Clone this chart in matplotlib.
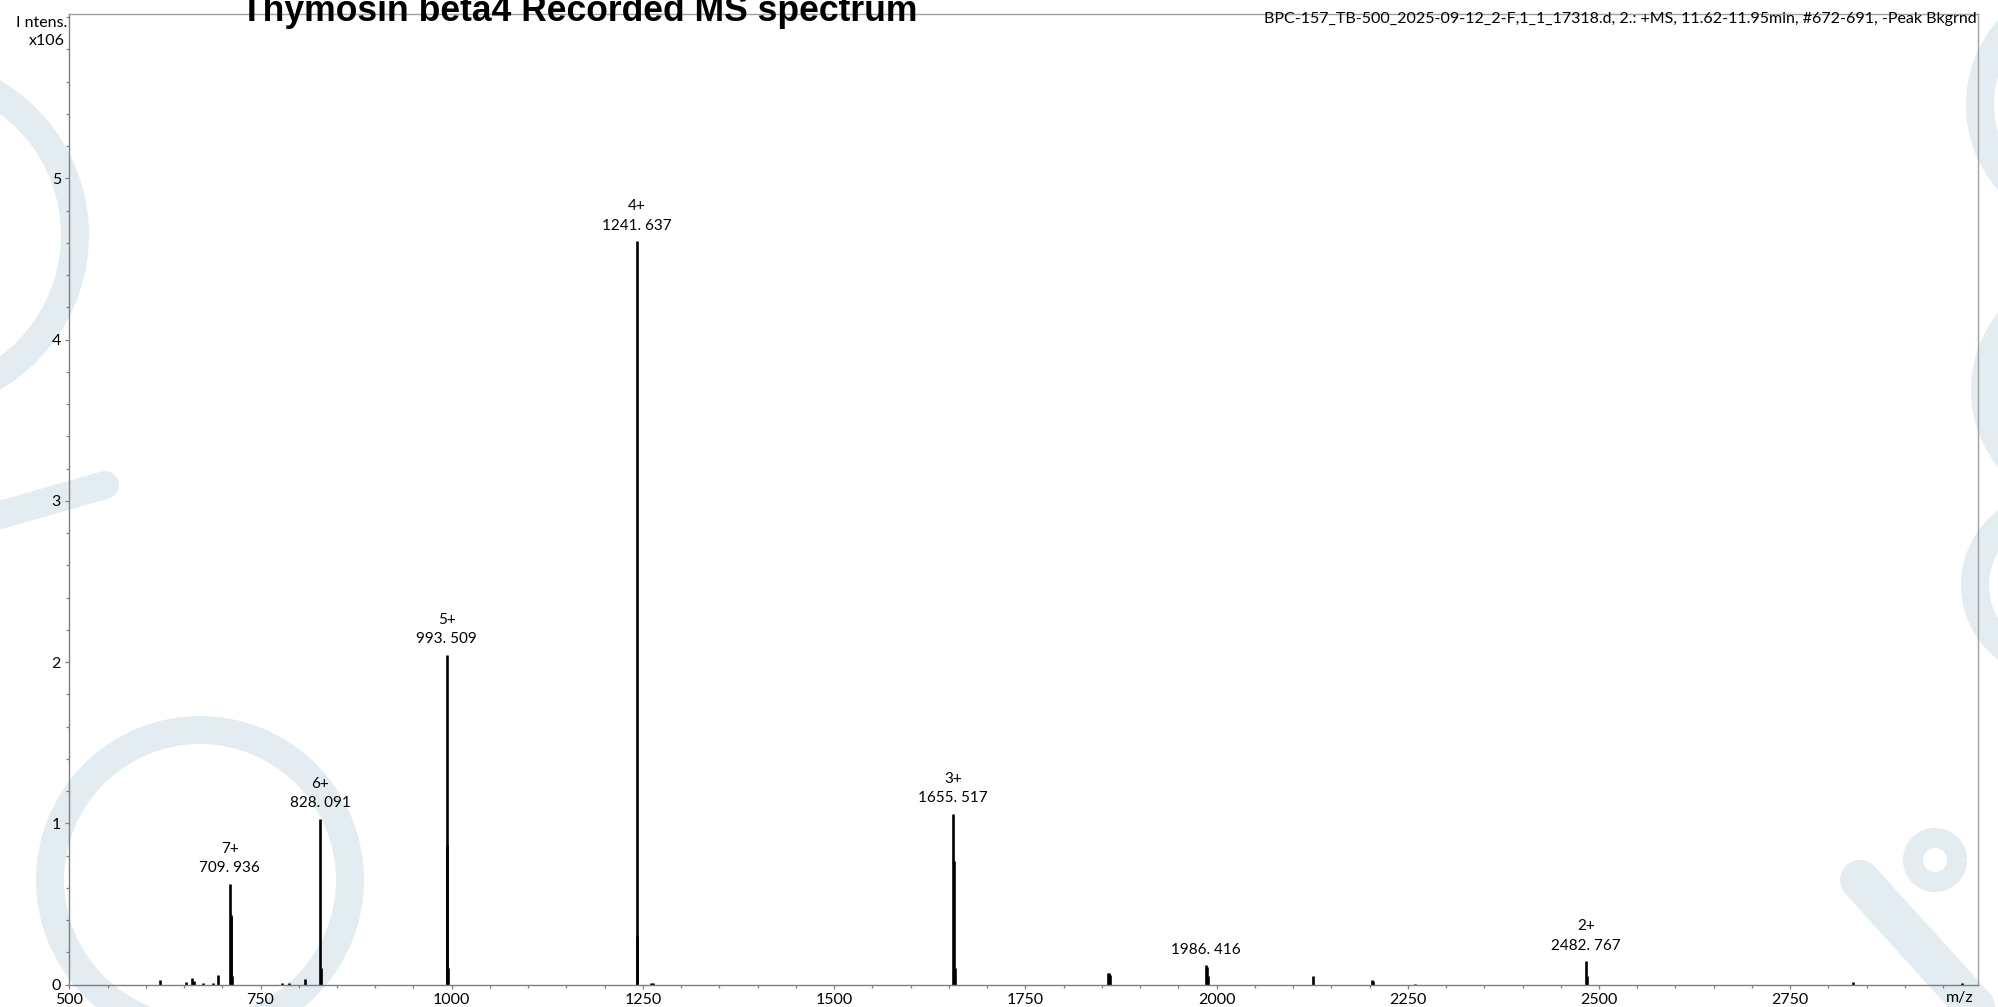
import matplotlib
matplotlib.use("Agg")
import matplotlib.pyplot as plt
from matplotlib.ticker import MultipleLocator
from matplotlib.patches import Arc
from matplotlib.lines import Line2D

# ---------------- data (m/z, intensity x10^6) ----------------
stick_mz = [618.7, 652.6, 660.0, 663.4, 675.0, 688.0, 694.0,
            709.936, 710.9, 711.9, 712.8,
            777.6, 787.6, 808.0,
            828.091, 829.0,
            993.509, 994.4, 995.3,
            1241.637, 1242.5,
            1260.6, 1262.6,
            1655.517, 1656.6, 1657.6,
            1857.6, 1858.9, 1860.3,
            1986.416, 1987.6, 1988.8,
            2125.7,
            2203.0, 2204.4,
            2260.0,
            2482.767, 2484.0,
            2832.0, 2975.0]
stick_int = [0.025, 0.017, 0.041, 0.020, 0.010, 0.010, 0.062,
             0.624, 0.430, 0.420, 0.050,
             0.008, 0.008, 0.035,
             1.027, 0.100,
             2.045, 0.866, 0.100,
             4.610, 0.300,
             0.008, 0.008,
             1.057, 0.764, 0.100,
             0.072, 0.070, 0.062,
             0.118, 0.110, 0.050,
             0.052,
             0.031, 0.024,
             0.006,
             0.145, 0.050,
             0.015, 0.008]

label_mz = [709.936, 828.091, 993.509, 1241.637, 1655.517, 1986.416, 2482.767]
label_int = [0.624, 1.027, 2.045, 4.610, 1.057, 0.118, 0.145]
label_charge = ["7+", "6+", "5+", "4+", "3+", "", "2+"]
label_text = ["709. 936", "828. 091", "993. 509", "1241. 637", "1655. 517", "1986. 416", "2482. 767"]

x_major = [500, 750, 1000, 1250, 1500, 1750, 2000, 2250, 2500, 2750]
y_major = [0, 1, 2, 3, 4, 5]
x_range = (500, 2995)
y_range = (0, 6.02)

title = "Thymosin beta4 Recorded MS spectrum"
info = "BPC-157_TB-500_2025-09-12_2-F,1_1_17318.d, 2.: +MS, 11.62-11.95min, #672-691, -Peak Bkgrnd"

# ---------------- figure ----------------
W, H = 1998, 1007
fig = plt.figure(figsize=(W / 100, H / 100), dpi=100)
fig.patch.set_facecolor("white")

# faint background watermark (decorative)
wm_color = "#e3ecf0"
def wm_arc(cx, cy, r, t1, t2, lw_px):
    a = Arc((cx / W, 1 - cy / H), 2 * r / W, 2 * r / H, theta1=t1, theta2=t2,
            transform=fig.transFigure, color=wm_color, lw=lw_px * 0.72, zorder=0)
    fig.add_artist(a)
def wm_line(x0, y0, x1, y1, lw_px):
    ln = Line2D([x0 / W, x1 / W], [1 - y0 / H, 1 - y1 / H], transform=fig.transFigure,
                color=wm_color, lw=lw_px * 0.72, solid_capstyle="round", zorder=0)
    fig.add_artist(ln)

wm_arc(-90, 235, 165, -80, 80, 28)
wm_arc(200, 880, 150, 0, 360, 28)
wm_line(105, 485, 0, 515, 28)
wm_arc(2095, 105, 115, 95, 265, 28)
wm_arc(2095, 390, 110, 95, 265, 28)
wm_arc(2055, 585, 80, 90, 270, 28)
wm_line(1860, 880, 1975, 1007, 40)
wm_arc(1935, 860, 22, 0, 360, 20)

L, R, B, T = 69.3, 1977.6, 984.5, 14.0
ax = fig.add_axes([L / W, (H - B) / H, (R - L) / W, (B - T) / H])
ax.patch.set_alpha(0)

FONT = ["Lato", "DejaVu Sans"]
gray = "#7f7f7f"

ax.vlines(stick_mz, 0, stick_int, color="black", linewidth=1.9)

for mz, h, ch, tx in zip(label_mz, label_int, label_charge, label_text):
    s = (ch + "\n" + tx) if ch else tx
    ax.annotate(s, xy=(mz, h), xytext=(0, 6.2), textcoords="offset points",
                ha="center", va="bottom", multialignment="center",
                fontsize=11, family=FONT, linespacing=1.5)

ax.set_xlim(*x_range)
ax.set_ylim(*y_range)
ax.set_xticks(x_major)
ax.set_xticklabels([str(v) for v in x_major])
ax.set_yticks(y_major)
ax.set_yticklabels([str(v) for v in y_major])
ax.xaxis.set_minor_locator(MultipleLocator(50))
ax.yaxis.set_minor_locator(MultipleLocator(0.2))
ax.tick_params(which="major", length=3, width=0.9, color=gray, pad=3,
               labelsize=11.5)
ax.tick_params(which="minor", length=2.5, width=0.9, color=gray)
for lab in ax.get_xticklabels() + ax.get_yticklabels():
    lab.set_family(FONT)
for sp in ax.spines.values():
    sp.set_color(gray)
    sp.set_linewidth(1.0)
for sp in ("top", "right"):
    ax.spines[sp].set_color("#a0a0a0")

# m/z label at right of the x axis
ax.text(0.998, -0.0135, "m/z", transform=ax.transAxes, ha="right", va="center",
        fontsize=11.5, family=FONT)

# info line (top-right)
fig.text((R - 1) / W, 1 - 19 / H, info, ha="right", va="center",
         fontsize=11.5, family=FONT)

# intensity label
fig.text(67 / W, 1 - 23 / H, "I ntens.", ha="right", va="center", fontsize=11.5, family=FONT)
fig.text(65 / W, 1 - 41 / H, "x106", ha="right", va="center", fontsize=11.5, family=FONT)

# title
fig.text(579 / W, 1 - 21 / H, title, ha="center", va="baseline",
         fontsize=25.6, fontweight="bold", family=["Liberation Sans", "DejaVu Sans"])

fig.savefig("out.png", dpi=100, facecolor="white")
